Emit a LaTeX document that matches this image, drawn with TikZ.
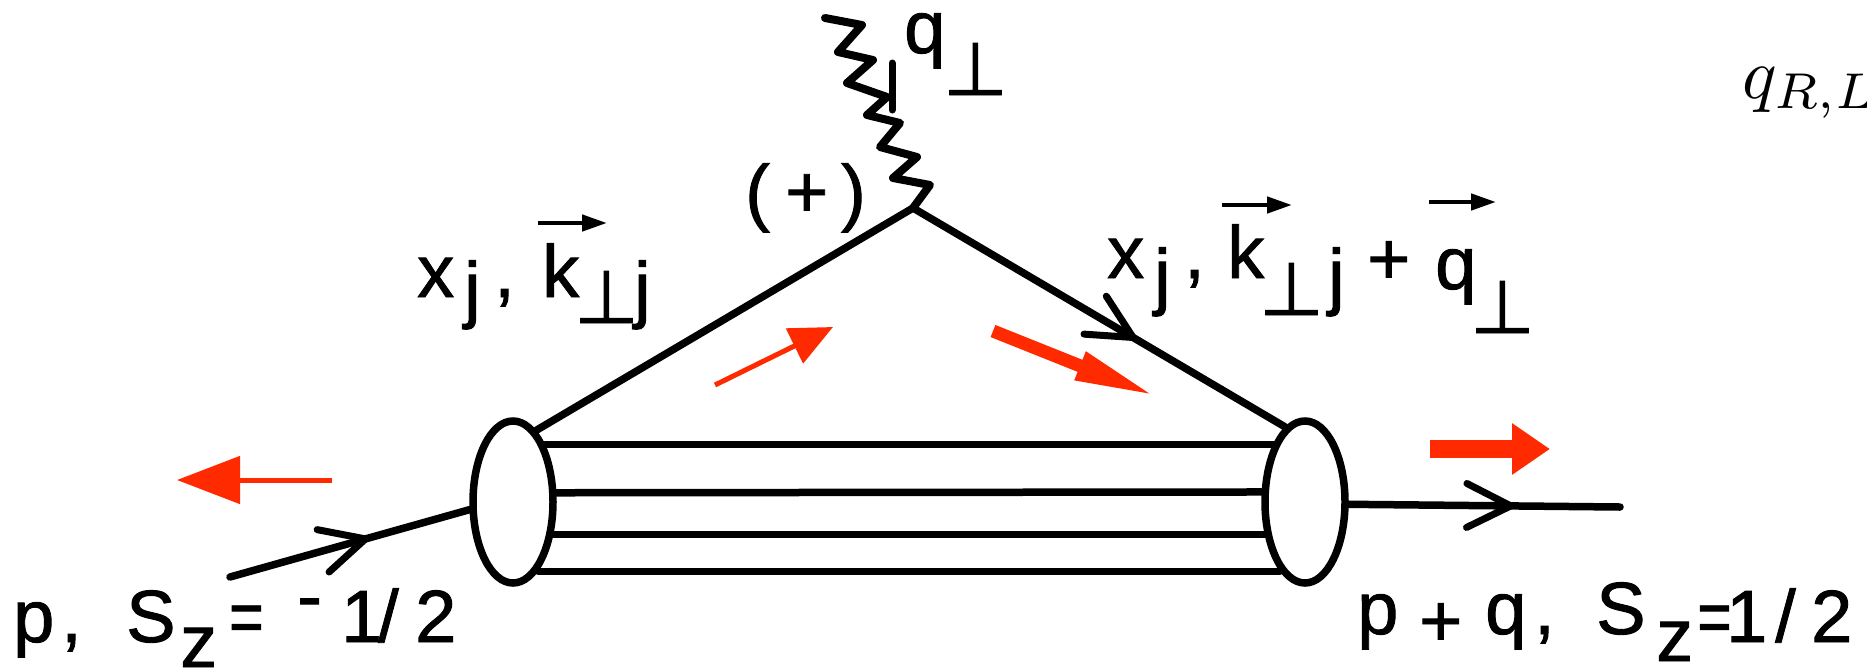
\documentclass[tikz,border=0pt]{standalone}
\usepackage{fontspec}
\setmainfont{Liberation Sans}[FakeBold=1.2]
\newfontfamily\dvs{DejaVu Sans}[FakeBold=1.2]
\usepackage{graphicx}
\usetikzlibrary{arrows.meta,decorations.markings,shapes.geometric}
\definecolor{redarr}{RGB}{255,42,0}
\newcommand{\at}[2]{\makebox[0pt][l]{\hspace*{#1pt}#2}}
\newcommand{\dn}[2]{\raisebox{-#1pt}{#2}}
\newcommand{\upt}{{\dvs ⊥}}
\begin{document}
\begin{tikzpicture}[x=1pt,y=-1pt,
  ln/.style={line width=7.5pt, line cap=round, line join=round},
  blob/.style={ellipse, draw, line width=7.5pt, minimum width=80pt, minimum height=162pt, inner sep=0pt},
  lbl/.style={anchor=base west, inner sep=0pt, font=\fontsize{74}{80}\selectfont},
  midarrow/.style={postaction={decorate}, decoration={markings, mark=at position #1 with {\arrow{Straight Barb[length=44pt,width=44pt,line width=7pt,round]}}}},
  vecarrow/.style={line width=4.5pt, -{Triangle[length=25pt,width=16pt]}}
]
\useasboundingbox (0,0) rectangle (1867,670);
\clip (0,0) rectangle (1867,670);

% hadron blobs
\node[blob] (L) at (513,502) {};
\node[blob] (R) at (1305,502) {};

% spectator lines
\draw[ln] (L.61) -- (R.119);
\draw[ln] (L.12.5) -- (R.167.5);
\draw[ln] (L.-39) -- (R.-141);
\draw[ln] (L.-70) -- (R.-110);

% vertex and quark lines
\coordinate (V) at (913,208);
\draw[ln] (L.72) -- (V);
\draw[ln, midarrow=0.6] (V) -- (R.105);

% external proton lines
\coordinate (Pin) at (230,577);
\coordinate (Pout) at (1620,507);
\draw[ln, midarrow=0.58] (Pin) -- (L.190);
\draw[ln, midarrow=0.61] (R.-3) -- (Pout);

% photon
\draw[line width=8pt, line join=round, line cap=round] (V) -- ++(17,-23) -- ++(-37,-7) -- ++(24,-21) -- ++(-37,-10) -- ++(20,-24) -- ++(-33,-8) -- ++(20,-18) -- ++(-40,-14) -- ++(26,-23) -- ++(-35,-8) -- ++(24,-27) -- ++(-37,-7);
\draw[line width=7pt, line cap=round] (892,63) -- (892,110);

% labels
\node[lbl] (qlab) at (900,53) {\at{4}{q}\at{43}{\dn{42}{\upt}}\hspace*{95pt}};
\node[lbl] (plus) at (745,217) {\at{0}{(}\at{40}{+}\at{96}{)}\hspace*{115pt}};
\node[lbl] (lk) at (410,297) {\at{7}{x}\at{54}{\dn{17}{j}}\at{84}{,}\at{132}{k}\at{164}{\dn{26}{\upt}}\at{224}{\dn{17}{j}}\hspace*{240pt}};
\node[lbl] (rk) at (1100,278) {\at{7}{x}\at{54}{\dn{23}{j}}\at{84}{,}\at{127}{k}\at{159}{\dn{37}{\upt}}\at{228}{\dn{23}{j}}\at{267}{\dn{6}{+}}\at{335}{\dn{11}{q}}\at{370}{\dn{55}{\upt}}\hspace*{425pt}};
\node[lbl] (pin) at (10,642) {\at{3}{p}\at{51}{,}\at{116}{S}\at{170}{\dn{25}{z}}\at{219}{\scalebox{0.8}[1]{=}}\at{287}{\raisebox{21pt}{-}}\at{331}{1}\at{368}{/}\at{405}{2}\hspace*{445pt}};
\node[lbl] (pout) at (1350,634) {\at{7}{p}\at{69}{\dn{12}{+}}\at{135}{q}\at{184}{,}\at{246}{S}\at{306}{\dn{27}{z}}\at{347}{\dn{8}{\scalebox{0.8}[1]{=}}}\at{376}{\dn{8}{1}}\at{425}{\dn{8}{/}}\at{461}{\dn{8}{2}}\hspace*{505pt}};
\node[anchor=base west, inner sep=0pt] (qrl) at (1742,98) {\scalebox{7.2}{$q_{R,L}$}};

% vector arrows over k and q
\draw[vecarrow] (538,223) -- (607,223);
\draw[vecarrow] (1222,205) -- (1292,205);
\draw[vecarrow] (1429,202) -- (1496,202);

% red arrows
\draw[redarr, line width=5pt, -{Triangle[length=63pt,width=47pt]}] (332,480) -- (177,480);
\draw[redarr, line width=5pt, -{Triangle[length=43pt,width=38pt]}] (715,385) -- (833,327);
\draw[redarr, line width=13pt, -{Triangle[length=84pt,width=27pt]}] (993,331) -- (1158,397);
\draw[redarr, line width=18pt, -{Triangle[length=38pt,width=49pt]}] (1430,449) -- (1550,449);
\end{tikzpicture}
\end{document}
